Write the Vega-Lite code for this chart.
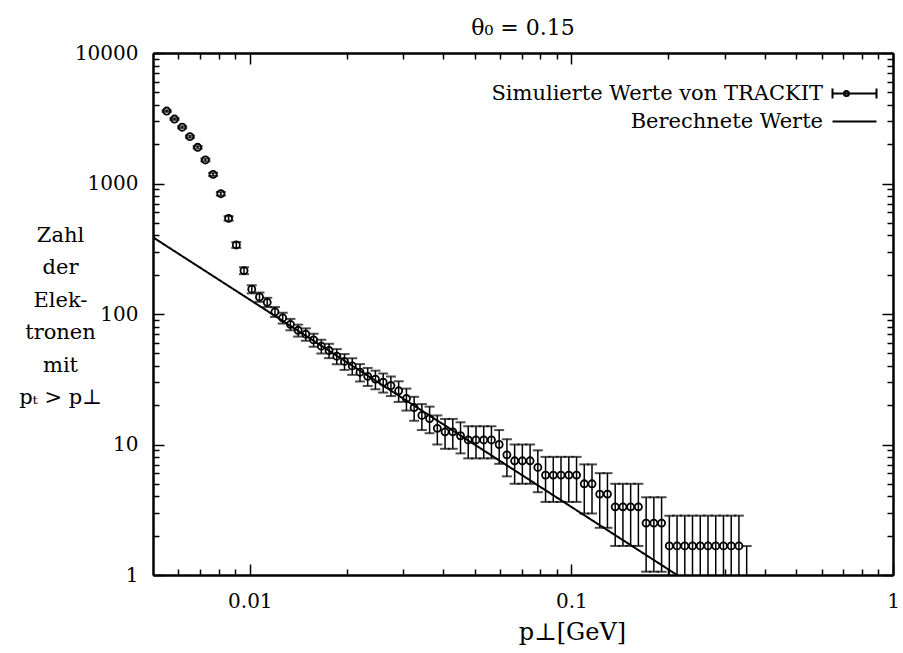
{
  "$schema": "https://vega.github.io/schema/vega-lite/v6.json",
  "width": 740,
  "height": 522,
  "autosize": {"type": "none"},
  "padding": {"left": 153, "top": 53, "right": 10, "bottom": 78},
  "background": "white",
  "title": {"text": "θ₀ = 0.15", "font": "DejaVu Serif", "fontSize": 22, "fontWeight": "normal", "color": "black", "offset": 3, "anchor": "middle"},
  "config": {
    "view": {"stroke": null},
    "axis": {"domainColor": "black", "domainWidth": 2, "tickColor": "black", "tickWidth": 1.5, "labelFont": "DejaVu Serif", "labelFontSize": 20, "labelColor": "black", "titleFont": "DejaVu Serif", "titleColor": "black", "titleFontWeight": "normal", "grid": false}
  },
  "datasets": {
    "calc": [
      {"series": "Berechnete Werte", "x": 0.005, "y": 387},
      {"series": "Berechnete Werte", "x": 0.213, "y": 1}
    ],
    "sim": [
      {"series": "Simulierte Werte von TRACKIT", "x": 0.005515, "y": 3590, "lo": 3535, "hi": 3645},
      {"series": "Simulierte Werte von TRACKIT", "x": 0.005831, "y": 3120, "lo": 3069, "hi": 3171},
      {"series": "Simulierte Werte von TRACKIT", "x": 0.006162, "y": 2700, "lo": 2653, "hi": 2747},
      {"series": "Simulierte Werte von TRACKIT", "x": 0.006513, "y": 2285, "lo": 2241, "hi": 2329},
      {"series": "Simulierte Werte von TRACKIT", "x": 0.006884, "y": 1895, "lo": 1855, "hi": 1935},
      {"series": "Simulierte Werte von TRACKIT", "x": 0.007275, "y": 1515, "lo": 1479, "hi": 1551},
      {"series": "Simulierte Werte von TRACKIT", "x": 0.00769, "y": 1175, "lo": 1144, "hi": 1206},
      {"series": "Simulierte Werte von TRACKIT", "x": 0.008127, "y": 835, "lo": 809, "hi": 861},
      {"series": "Simulierte Werte von TRACKIT", "x": 0.00859, "y": 540, "lo": 519, "hi": 561},
      {"series": "Simulierte Werte von TRACKIT", "x": 0.009078, "y": 338, "lo": 321, "hi": 355},
      {"series": "Simulierte Werte von TRACKIT", "x": 0.009594, "y": 215, "lo": 202, "hi": 228},
      {"series": "Simulierte Werte von TRACKIT", "x": 0.010141, "y": 155, "lo": 144, "hi": 166},
      {"series": "Simulierte Werte von TRACKIT", "x": 0.010717, "y": 135, "lo": 124, "hi": 146},
      {"series": "Simulierte Werte von TRACKIT", "x": 0.011328, "y": 123, "lo": 113, "hi": 133},
      {"series": "Simulierte Werte von TRACKIT", "x": 0.011972, "y": 104, "lo": 95, "hi": 113},
      {"series": "Simulierte Werte von TRACKIT", "x": 0.012654, "y": 93.3, "lo": 84.5, "hi": 102.2},
      {"series": "Simulierte Werte von TRACKIT", "x": 0.013374, "y": 83.3, "lo": 75.0, "hi": 91.7},
      {"series": "Simulierte Werte von TRACKIT", "x": 0.014135, "y": 75.0, "lo": 67.1, "hi": 82.9},
      {"series": "Simulierte Werte von TRACKIT", "x": 0.014939, "y": 70.0, "lo": 62.4, "hi": 77.6},
      {"series": "Simulierte Werte von TRACKIT", "x": 0.01579, "y": 63.3, "lo": 56.1, "hi": 70.6},
      {"series": "Simulierte Werte von TRACKIT", "x": 0.016688, "y": 56.7, "lo": 49.8, "hi": 63.5},
      {"series": "Simulierte Werte von TRACKIT", "x": 0.017636, "y": 52.5, "lo": 45.9, "hi": 59.1},
      {"series": "Simulierte Werte von TRACKIT", "x": 0.018641, "y": 47.5, "lo": 41.2, "hi": 53.8},
      {"series": "Simulierte Werte von TRACKIT", "x": 0.019701, "y": 43.3, "lo": 37.3, "hi": 49.3},
      {"series": "Simulierte Werte von TRACKIT", "x": 0.020823, "y": 40.0, "lo": 34.2, "hi": 45.8},
      {"series": "Simulierte Werte von TRACKIT", "x": 0.022008, "y": 35.8, "lo": 30.4, "hi": 41.3},
      {"series": "Simulierte Werte von TRACKIT", "x": 0.02326, "y": 33.3, "lo": 28.1, "hi": 38.6},
      {"series": "Simulierte Werte von TRACKIT", "x": 0.024585, "y": 31.7, "lo": 26.5, "hi": 36.8},
      {"series": "Simulierte Werte von TRACKIT", "x": 0.025985, "y": 30.0, "lo": 25.0, "hi": 35.0},
      {"series": "Simulierte Werte von TRACKIT", "x": 0.027463, "y": 28.3, "lo": 23.5, "hi": 33.2},
      {"series": "Simulierte Werte von TRACKIT", "x": 0.029025, "y": 25.8, "lo": 21.2, "hi": 30.5},
      {"series": "Simulierte Werte von TRACKIT", "x": 0.03069, "y": 22.5, "lo": 18.2, "hi": 26.8},
      {"series": "Simulierte Werte von TRACKIT", "x": 0.032434, "y": 19.2, "lo": 15.2, "hi": 23.2},
      {"series": "Simulierte Werte von TRACKIT", "x": 0.034279, "y": 16.7, "lo": 12.9, "hi": 20.4},
      {"series": "Simulierte Werte von TRACKIT", "x": 0.036229, "y": 15.8, "lo": 12.2, "hi": 19.5},
      {"series": "Simulierte Werte von TRACKIT", "x": 0.038292, "y": 13.3, "lo": 10.0, "hi": 16.7},
      {"series": "Simulierte Werte von TRACKIT", "x": 0.040471, "y": 12.5, "lo": 9.27, "hi": 15.7},
      {"series": "Simulierte Werte von TRACKIT", "x": 0.042774, "y": 12.5, "lo": 9.27, "hi": 15.7},
      {"series": "Simulierte Werte von TRACKIT", "x": 0.045208, "y": 11.67, "lo": 8.55, "hi": 14.8},
      {"series": "Simulierte Werte von TRACKIT", "x": 0.047779, "y": 10.83, "lo": 7.83, "hi": 13.8},
      {"series": "Simulierte Werte von TRACKIT", "x": 0.0505, "y": 10.83, "lo": 7.83, "hi": 13.8},
      {"series": "Simulierte Werte von TRACKIT", "x": 0.053373, "y": 10.83, "lo": 7.83, "hi": 13.8},
      {"series": "Simulierte Werte von TRACKIT", "x": 0.05641, "y": 10.83, "lo": 7.83, "hi": 13.8},
      {"series": "Simulierte Werte von TRACKIT", "x": 0.05962, "y": 10.0, "lo": 7.11, "hi": 12.9},
      {"series": "Simulierte Werte von TRACKIT", "x": 0.063012, "y": 8.33, "lo": 5.70, "hi": 10.97},
      {"series": "Simulierte Werte von TRACKIT", "x": 0.066596, "y": 7.5, "lo": 5.0, "hi": 10.0},
      {"series": "Simulierte Werte von TRACKIT", "x": 0.070389, "y": 7.5, "lo": 5.0, "hi": 10.0},
      {"series": "Simulierte Werte von TRACKIT", "x": 0.074393, "y": 7.5, "lo": 5.0, "hi": 10.0},
      {"series": "Simulierte Werte von TRACKIT", "x": 0.078624, "y": 6.67, "lo": 4.31, "hi": 9.02},
      {"series": "Simulierte Werte von TRACKIT", "x": 0.083101, "y": 5.83, "lo": 3.63, "hi": 8.04},
      {"series": "Simulierte Werte von TRACKIT", "x": 0.087828, "y": 5.83, "lo": 3.63, "hi": 8.04},
      {"series": "Simulierte Werte von TRACKIT", "x": 0.092827, "y": 5.83, "lo": 3.63, "hi": 8.04},
      {"series": "Simulierte Werte von TRACKIT", "x": 0.098153, "y": 5.83, "lo": 3.63, "hi": 8.04},
      {"series": "Simulierte Werte von TRACKIT", "x": 0.10375, "y": 5.83, "lo": 3.63, "hi": 8.04},
      {"series": "Simulierte Werte von TRACKIT", "x": 0.10965, "y": 5.0, "lo": 2.96, "hi": 7.04},
      {"series": "Simulierte Werte von TRACKIT", "x": 0.11589, "y": 5.0, "lo": 2.96, "hi": 7.04},
      {"series": "Simulierte Werte von TRACKIT", "x": 0.12248, "y": 4.17, "lo": 2.30, "hi": 6.03},
      {"series": "Simulierte Werte von TRACKIT", "x": 0.12945, "y": 4.17, "lo": 2.30, "hi": 6.03},
      {"series": "Simulierte Werte von TRACKIT", "x": 0.13683, "y": 3.33, "lo": 1.67, "hi": 5.0},
      {"series": "Simulierte Werte von TRACKIT", "x": 0.14461, "y": 3.33, "lo": 1.67, "hi": 5.0},
      {"series": "Simulierte Werte von TRACKIT", "x": 0.15284, "y": 3.33, "lo": 1.67, "hi": 5.0},
      {"series": "Simulierte Werte von TRACKIT", "x": 0.16154, "y": 3.33, "lo": 1.67, "hi": 5.0},
      {"series": "Simulierte Werte von TRACKIT", "x": 0.17074, "y": 2.5, "lo": 1.06, "hi": 3.94},
      {"series": "Simulierte Werte von TRACKIT", "x": 0.18045, "y": 2.5, "lo": 1.06, "hi": 3.94},
      {"series": "Simulierte Werte von TRACKIT", "x": 0.19073, "y": 2.5, "lo": 1.06, "hi": 3.94},
      {"series": "Simulierte Werte von TRACKIT", "x": 0.20158, "y": 1.67, "lo": 0.49, "hi": 2.85},
      {"series": "Simulierte Werte von TRACKIT", "x": 0.21306, "y": 1.67, "lo": 0.49, "hi": 2.85},
      {"series": "Simulierte Werte von TRACKIT", "x": 0.2252, "y": 1.67, "lo": 0.49, "hi": 2.85},
      {"series": "Simulierte Werte von TRACKIT", "x": 0.238, "y": 1.67, "lo": 0.49, "hi": 2.85},
      {"series": "Simulierte Werte von TRACKIT", "x": 0.25158, "y": 1.67, "lo": 0.49, "hi": 2.85},
      {"series": "Simulierte Werte von TRACKIT", "x": 0.26588, "y": 1.67, "lo": 0.49, "hi": 2.85},
      {"series": "Simulierte Werte von TRACKIT", "x": 0.28106, "y": 1.67, "lo": 0.49, "hi": 2.85},
      {"series": "Simulierte Werte von TRACKIT", "x": 0.29707, "y": 1.67, "lo": 0.49, "hi": 2.85},
      {"series": "Simulierte Werte von TRACKIT", "x": 0.314, "y": 1.67, "lo": 0.49, "hi": 2.85},
      {"series": "Simulierte Werte von TRACKIT", "x": 0.33181, "y": 1.67, "lo": 0.49, "hi": 2.85},
      {"series": "Simulierte Werte von TRACKIT", "x": 0.35075, "y": 0.833, "lo": 0.3, "hi": 1.667}
    ]
  },
  "layer": [
    {
      "data": {"name": "calc"},
      "mark": {"type": "line", "color": "black", "strokeWidth": 2, "clip": true},
      "encoding": {
        "x": {"field": "x", "type": "quantitative", "scale": {"type": "log", "domain": [0.005, 1], "nice": false},
          "axis": {"orient": "bottom", "values": [0.01, 0.1, 1], "format": "~g", "labelFlush": false, "labelPadding": 27, "tickSize": -11, "title": "p⊥[GeV]", "titleFontSize": 24, "titleX": 419, "titleY": 64, "titleAlign": "center", "titleBaseline": "alphabetic"}},
        "y": {"field": "y", "type": "quantitative", "scale": {"type": "log", "domain": [1, 10000], "nice": false},
          "axis": {"orient": "left", "values": [1, 10, 100, 1000, 10000], "format": "~g", "labelFlush": false, "labelPadding": 26, "tickSize": -11, "title": ["Zahl", "der", "Elek-", "tronen", "mit", "pₜ > p⊥"], "titleFontSize": 21, "titleAngle": 0, "titleAlign": "center", "titleBaseline": "middle", "titleLineHeight": 32.5, "titleX": -93, "titleY": 182}},
        "strokeDash": {"field": "series", "type": "nominal",
          "scale": {"domain": ["Berechnete Werte"], "range": [[1, 0]]},
          "legend": {"orient": "none", "legendX": 691, "legendY": 58, "title": null, "padding": 0,
            "labelFont": "DejaVu Serif", "labelFontSize": 21, "labelColor": "black", "labelAlign": "right", "labelOffset": -42, "labelLimit": 0,
            "symbolType": "M-4.4,0L4.4,0", "symbolSize": 100, "symbolStrokeWidth": 2, "symbolStrokeColor": "black"}}
      }
    },
    {
      "data": {"name": "sim"},
      "mark": {"type": "rule", "color": "black", "strokeWidth": 1.5, "clip": true},
      "encoding": {
        "x": {"field": "x", "type": "quantitative", "scale": {"type": "log", "domain": [0.005, 1], "nice": false},
          "axis": {"orient": "bottom", "values": [0.006, 0.007, 0.008, 0.009, 0.02, 0.03, 0.04, 0.05, 0.06, 0.07, 0.08, 0.09, 0.2, 0.3, 0.4, 0.5, 0.6, 0.7, 0.8, 0.9], "labels": false, "tickSize": -6, "title": null}},
        "y": {"field": "lo", "type": "quantitative", "scale": {"type": "log", "domain": [1, 10000], "nice": false},
          "axis": {"orient": "left", "values": [2, 3, 4, 5, 6, 7, 8, 9, 20, 30, 40, 50, 60, 70, 80, 90, 200, 300, 400, 500, 600, 700, 800, 900, 2000, 3000, 4000, 5000, 6000, 7000, 8000, 9000], "labels": false, "tickSize": -6, "title": null}},
        "y2": {"field": "hi"}
      }
    },
    {
      "data": {"name": "sim"},
      "mark": {"type": "tick", "orient": "horizontal", "color": "black", "size": 10, "thickness": 2, "clip": true},
      "encoding": {
        "x": {"field": "x", "type": "quantitative", "scale": {"type": "log", "domain": [0.005, 1], "nice": false},
          "axis": {"orient": "top", "values": [0.01, 0.1, 1], "labels": false, "tickSize": -11, "title": null}},
        "y": {"field": "lo", "type": "quantitative", "scale": {"type": "log", "domain": [1, 10000], "nice": false},
          "axis": {"orient": "right", "values": [1, 10, 100, 1000, 10000], "labels": false, "tickSize": -11, "title": null}}
      }
    },
    {
      "data": {"name": "sim"},
      "mark": {"type": "tick", "orient": "horizontal", "color": "black", "size": 10, "thickness": 2, "clip": true},
      "encoding": {
        "x": {"field": "x", "type": "quantitative", "scale": {"type": "log", "domain": [0.005, 1], "nice": false},
          "axis": {"orient": "top", "values": [0.006, 0.007, 0.008, 0.009, 0.02, 0.03, 0.04, 0.05, 0.06, 0.07, 0.08, 0.09, 0.2, 0.3, 0.4, 0.5, 0.6, 0.7, 0.8, 0.9], "labels": false, "tickSize": -6, "title": null}},
        "y": {"field": "hi", "type": "quantitative", "scale": {"type": "log", "domain": [1, 10000], "nice": false},
          "axis": {"orient": "right", "values": [2, 3, 4, 5, 6, 7, 8, 9, 20, 30, 40, 50, 60, 70, 80, 90, 200, 300, 400, 500, 600, 700, 800, 900, 2000, 3000, 4000, 5000, 6000, 7000, 8000, 9000], "labels": false, "tickSize": -6, "title": null}}
      }
    },
    {
      "data": {"name": "sim"},
      "mark": {"type": "point", "shape": "circle", "filled": false, "size": 50, "strokeWidth": 1.8, "opacity": 1, "clip": true},
      "encoding": {
        "x": {"field": "x", "type": "quantitative", "scale": {"type": "log", "domain": [0.005, 1], "nice": false}, "axis": null},
        "y": {"field": "y", "type": "quantitative", "scale": {"type": "log", "domain": [1, 10000], "nice": false}, "axis": null},
        "color": {"field": "series", "type": "nominal",
          "scale": {"domain": ["Simulierte Werte von TRACKIT"], "range": ["black"]},
          "legend": {"orient": "none", "legendX": 691, "legendY": 30, "title": null, "padding": 0,
            "labelFont": "DejaVu Serif", "labelFontSize": 21, "labelColor": "black", "labelAlign": "right", "labelOffset": -42, "labelLimit": 0,
            "symbolType": "M-4.4,-1L-4.4,1M-4.4,0L4.4,0M4.4,-1L4.4,1M-2.1,0A0.5,0.5,0,1,1,-1.1,0A0.5,0.5,0,1,1,-2.1,0Z",
            "symbolSize": 100, "symbolStrokeWidth": 2, "symbolStrokeColor": "black", "symbolFillColor": "black"}}
      }
    }
  ],
  "resolve": {"axis": {"x": "independent", "y": "independent"}}
}
